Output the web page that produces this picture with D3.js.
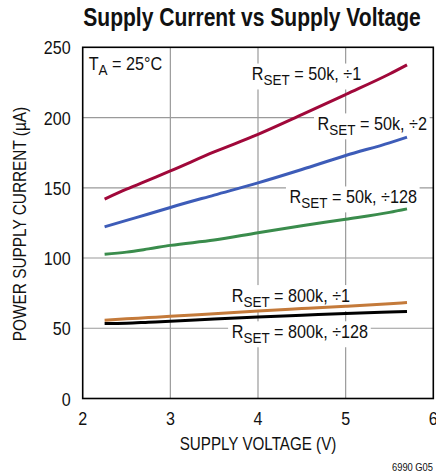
<!DOCTYPE html>
<html>
<head>
<meta charset="utf-8">
<script src="https://cdn.jsdelivr.net/npm/d3@7"></script>
<style>
  body { margin: 0; background: #fff; }
  svg text { font-family: 'Liberation Sans', Arial, sans-serif; fill: #111; }
</style>
</head>
<body>
<div id="chart"></div>
<script>
// supply voltage (V) where the curves were read
const voltage = [2.25, 2.5, 2.75, 3, 3.5, 4, 4.5, 5, 5.5, 5.7];

// supply current (uA) per curve
const rset50kDiv1 = [142, 149, 155.5, 162, 175.5, 188, 202, 216.4, 231, 237.5];
const rset50kDiv2 = [122.2, 126.8, 131.3, 136, 144.8, 153.5, 163, 173, 182, 186];
const rset50kDiv128 = [102.7, 104.2, 106.5, 109, 112.8, 118, 123, 127.6, 132.5, 135];
const rset800kDiv1 = [55.7, 56.7, 57.6, 58.5, 60.4, 62.3, 64, 65.7, 67.5, 68.3];
const rset800kDiv128 = [53.3, 53.6, 54.3, 55, 56.6, 58.1, 59.3, 60.5, 61.5, 61.9];

const xTicks = [2, 3, 4, 5, 6];
const yTicks = [0, 50, 100, 150, 200, 250];

const series = [
  { values: rset800kDiv128, color: '#000000' },
  { values: rset800kDiv1, color: '#c47a3a' },
  { values: rset50kDiv128, color: '#3a8c4c' },
  { values: rset50kDiv2, color: '#3d5cb8' },
  { values: rset50kDiv1, color: '#a0083a' },
];

// label anchor (data units, left end / baseline) for each curve label
const labels = [
  { name: '50k, ÷1', v: 3.93, i: 226.5 },
  { name: '50k, ÷2', v: 4.68, i: 191 },
  { name: '50k, ÷128', v: 4.36, i: 139 },
  { name: '800k, ÷1', v: 3.7, i: 68.8 },
  { name: '800k, ÷128', v: 3.7, i: 43 },
];

const width = 436, height = 472;
const margin = { top: 47.3, right: 2.7, bottom: 73.5, left: 82.7 };

const svg = d3.select('#chart').append('svg')
  .attr('width', width)
  .attr('height', height);

const x = d3.scaleLinear().domain([2, 6]).range([margin.left, width - margin.right]);
const y = d3.scaleLinear().domain([0, 250]).range([height - margin.bottom, margin.top]);

// condensed text: squeeze a normal face sideways
function ctext(parent, px, py, size, sx, str, anchor, rot) {
  return parent.append('text')
    .attr('transform', 'translate(' + px + ',' + py + ')' + (rot ? ' rotate(' + rot + ')' : '') + ' scale(' + sx + ',1)')
    .attr('text-anchor', anchor || 'start')
    .style('font-size', size + 'px')
    .text(str);
}

// title
ctext(svg, 252, 26, 26, 0.81, 'Supply Current vs Supply Voltage', 'middle')
  .style('font-weight', 'bold');

// grid
svg.append('g').selectAll('line')
  .data(xTicks.slice(1, -1)).enter().append('line')
  .attr('x1', d => x(d)).attr('x2', d => x(d))
  .attr('y1', y(0)).attr('y2', y(250))
  .attr('stroke', '#9a9a9a').attr('stroke-width', 1.2);
svg.append('g').selectAll('line')
  .data(yTicks.slice(1, -1)).enter().append('line')
  .attr('x1', x(2)).attr('x2', x(6))
  .attr('y1', d => y(d)).attr('y2', d => y(d))
  .attr('stroke', '#9a9a9a').attr('stroke-width', 1.2);

// tick labels
yTicks.forEach(d => ctext(svg, x(2) - 12, y(d) + 7, 18.5, 0.87, d, 'end'));
xTicks.forEach(d => ctext(svg, x(d), y(0) + 26, 18.5, 0.87, d, 'middle'));

// axis titles
ctext(svg, 25.5, 224, 19, 0.81, 'POWER SUPPLY CURRENT (µA)', 'middle', -90);
ctext(svg, 258, 450, 19, 0.8, 'SUPPLY VOLTAGE (V)', 'middle');
ctext(svg, 433, 471, 11, 0.85, '6990 G05', 'end');

// curve labels, white box knocks out the grid
labels.forEach(l => {
  const g = svg.append('g')
    .attr('transform', 'translate(' + x(l.v) + ',' + y(l.i) + ') scale(0.9,1)');
  const t = g.append('text').style('font-size', '18px');
  t.append('tspan').text('R');
  t.append('tspan').attr('dy', 5).style('font-size', '15px').text('SET');
  t.append('tspan').attr('dy', -5).text(' = ' + l.name);
  const b = t.node().getBBox();
  g.insert('rect', 'text')
    .attr('x', b.x - 4).attr('y', b.y - 1)
    .attr('width', b.width + 7).attr('height', b.height + 2)
    .attr('fill', '#fff');
});

// T_A label
const ta = svg.append('text')
  .attr('transform', 'translate(' + (x(2) + 6) + ',70) scale(0.9,1)')
  .style('font-size', '18px');
ta.append('tspan').text('T');
ta.append('tspan').attr('dy', 5).style('font-size', '15px').text('A');
ta.append('tspan').attr('dy', -5).text(' = 25°C');

// curves
const line = d3.line()
  .curve(d3.curveMonotoneX)
  .x((d, i) => x(voltage[i]))
  .y(d => y(d));

series.forEach(s => {
  svg.append('path')
    .datum(s.values)
    .attr('fill', 'none')
    .attr('stroke', s.color)
    .attr('stroke-width', 3)
    .attr('d', line);
});

// frame
svg.append('rect')
  .attr('x', x(2)).attr('y', y(250))
  .attr('width', x(6) - x(2)).attr('height', y(0) - y(250))
  .attr('fill', 'none')
  .attr('stroke', '#000')
  .attr('stroke-width', 1.6);
</script>
</body>
</html>
